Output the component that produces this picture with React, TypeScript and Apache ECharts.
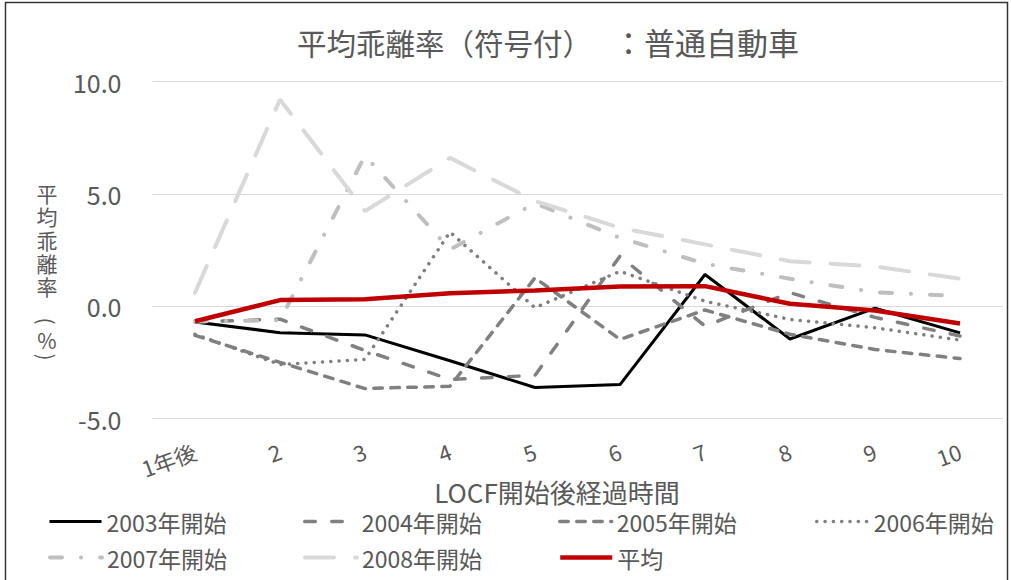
import React, { useEffect, useRef } from 'react';
import * as echarts from 'echarts';

const categories = ['1年後', '2', '3', '4', '5', '6', '7', '8', '9', '10'];
const s2003 = [-0.70, -1.18, -1.28, -2.43, -3.62, -3.49, 1.41, -1.46, -0.09, -1.19];
const s2004 = [-0.70, -0.58, -1.97, -3.26, -3.08, 2.23, -0.89, 0.60, -0.50, -1.33];
const s2005 = [-1.30, -2.50, -3.67, -3.56, 1.26, -1.48, -0.17, -1.25, -1.93, -2.33];
const s2006 = [-1.25, -2.60, -2.37, 3.30, -0.07, 1.55, 0.22, -0.59, -0.96, -1.51];
const s2007 = [-0.68, -0.63, 6.70, 2.52, 4.58, 3.04, 1.89, 1.22, 0.62, 0.45];
const s2008 = [0.60, 9.20, 4.23, 6.60, 4.68, 3.49, 2.75, 2.00, 1.77, 1.22];
const avg = [-0.67, 0.27, 0.31, 0.57, 0.70, 0.87, 0.89, 0.11, -0.19, -0.77];

const yTicks = { min: -5, max: 10, interval: 5 };
const seriesNames = ['2003年開始', '2004年開始', '2005年開始', '2006年開始', '2007年開始', '2008年開始', '平均'];
const titlePartA = '平均乖離率（符号付）';
const titlePartB = '：普通自動車';
const xAxisTitle = 'LOCF開始後経過時間';
const yAxisTitleChars = ['平', '均', '乖', '離', '率'];

const FONT = '"Noto Sans CJK JP", "Noto Sans", sans-serif';
const TEXT = '#595959';

export default function App() {
  const ref = useRef<HTMLDivElement>(null);
  useEffect(() => {
    document.body.style.margin = '0';
    const chart = echarts.init(ref.current as HTMLDivElement, null, { renderer: 'svg' });
    const dataList = [s2003, s2004, s2005, s2006, s2007, s2008, avg];
    const styles: any[] = [
      { color: '#000000', width: 3, type: 'solid', cap: 'butt' },
      { color: '#808080', width: 3.5, type: [10.5, 16.5], cap: 'round' },
      { color: '#808080', width: 3.5, type: [8.5, 8.5], cap: 'round' },
      { color: '#7f7f7f', width: 3.5, type: [0.1, 8.2], cap: 'round' },
      { color: '#bfbfbf', width: 4, type: [12, 19, 0.1, 19], cap: 'round' },
      { color: '#d9d9d9', width: 4, type: [29, 21], cap: 'round' },
      { color: '#c00000', width: 4.5, type: 'solid', cap: 'butt' },
    ];
    const series = seriesNames.map((name, i) => ({
      name,
      type: 'line',
      data: dataList[i],
      symbol: 'none',
      showSymbol: false,
      smooth: false,
      lineStyle: styles[i],
      itemStyle: { color: styles[i].color },
      emphasis: { disabled: true },
    }));
    const legendLeft = [48, 303, 558, 815];
    const legendTop = [510, 546];
    const legends = seriesNames.map((name, i) => ({
      data: [name],
      left: legendLeft[i % 4],
      top: legendTop[Math.floor(i / 4)],
      padding: 0,
      itemWidth: 52,
      itemHeight: 14,
      selectedMode: false,
      textStyle: { color: TEXT, fontSize: 23, fontFamily: FONT },
      lineStyle: { ...styles[i] },
      itemStyle: { color: 'rgba(0,0,0,0)', borderColor: 'rgba(0,0,0,0)', borderWidth: 0 },
    }));
    const yNameTexts = yAxisTitleChars.map((ch, i) => ({
      type: 'text',
      silent: true,
      x: 47,
      y: 193 + i * 23.3,
      style: {
        text: ch,
        fontSize: 21,
        lineHeight: 22,
        fontFamily: FONT,
        fill: TEXT,
        align: 'center',
        verticalAlign: 'middle',
      },
    }));
    chart.setOption({
      animation: false,
      backgroundColor: '#ffffff',
      title: {
        text: '{a|' + titlePartA + '}{b|' + titlePartB + '}',
        left: 297,
        top: 26,
        padding: 0,
        textStyle: {
          color: TEXT,
          fontSize: 30,
          fontWeight: 'normal',
          fontFamily: FONT,
          rich: {
            a: { color: TEXT, fontSize: 29.5, fontFamily: FONT },
            b: { color: TEXT, fontSize: 31, fontFamily: FONT, padding: [0, 0, 0, 21] },
          },
        },
      },
      legend: legends,
      grid: { left: 152.5, right: 8.5, top: 81.5, bottom: 161.5, containLabel: false },
      xAxis: {
        type: 'category',
        data: categories,
        boundaryGap: true,
        axisLine: { show: false },
        axisTick: { show: false },
        splitLine: { show: false },
        axisLabel: { rotate: 20, margin: 31, color: TEXT, fontSize: 22, fontFamily: FONT, interval: 0 },
      },
      yAxis: {
        type: 'value',
        min: yTicks.min,
        max: yTicks.max,
        interval: yTicks.interval,
        axisLine: { show: false },
        axisTick: { show: false },
        splitLine: { show: true, lineStyle: { color: '#d9d9d9', width: 1 } },
        axisLabel: {
          margin: 31,
          color: TEXT,
          fontSize: 25,
          fontFamily: FONT,
          padding: [0, 0, 3, 0],
          formatter: (v: number) => v.toFixed(1),
        },
      },
      graphic: [
        {
          type: 'rect',
          silent: true,
          shape: { x: 5.5, y: 2.5, width: 1002, height: 620 },
          style: { fill: 'none', stroke: '#333333', lineWidth: 1.5 },
        },
        ...yNameTexts,
        {
          type: 'text',
          silent: true,
          x: 47,
          y: 321,
          rotation: -Math.PI / 2,
          style: { text: '(', fontSize: 21, lineHeight: 14, fontFamily: FONT, fill: TEXT, align: 'center', verticalAlign: 'middle' },
        },
        {
          type: 'text',
          silent: true,
          x: 47,
          y: 340,
          style: { text: '%', fontSize: 21, lineHeight: 16, fontFamily: FONT, fill: TEXT, align: 'center', verticalAlign: 'middle' },
        },
        {
          type: 'text',
          silent: true,
          x: 47,
          y: 357,
          rotation: -Math.PI / 2,
          style: { text: ')', fontSize: 21, lineHeight: 14, fontFamily: FONT, fill: TEXT, align: 'center', verticalAlign: 'middle' },
        },
        {
          type: 'text',
          silent: true,
          x: 557,
          y: 491,
          style: { text: xAxisTitle, fontSize: 26, fontFamily: FONT, fill: TEXT, align: 'center', verticalAlign: 'middle' },
        },
      ],
      series,
    });
    return () => chart.dispose();
  }, []);
  return <div ref={ref} style={{ position: 'absolute', left: 0, top: 0, width: 1011, height: 580 }} />;
}
